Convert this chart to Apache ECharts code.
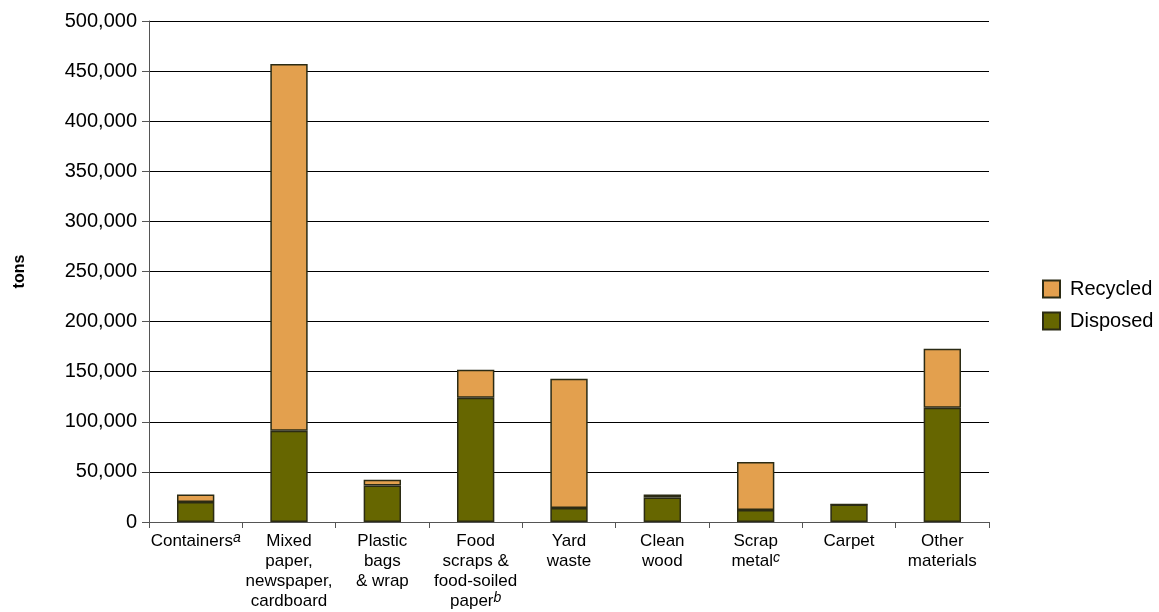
<!DOCTYPE html>
<html>
<head>
<meta charset="utf-8">
<script src="https://cdn.jsdelivr.net/npm/echarts@6/dist/echarts.min.js"></script>
<style>
  html, body { margin: 0; padding: 0; background: #fff; }
  #chart { width: 1159px; height: 612px; }
</style>
</head>
<body>
<div id="chart"></div>
<script>
// categories and footnote marks
const categories = ['Containers', 'Mixed\npaper,\nnewspaper,\ncardboard', 'Plastic\nbags\n& wrap',
  'Food\nscraps &\nfood-soiled\npaper', 'Yard\nwaste', 'Clean\nwood', 'Scrap\nmetal', 'Carpet', 'Other\nmaterials'];
const notes = ['a', '', '', 'b', '', '', 'c', '', ''];

// tons
const disposed = [20000, 91000, 36500, 124000, 14000, 24500, 12000, 17500, 114000];
const recycled = [7500, 366000, 5700, 28000, 129000, 3000, 48000, 0, 59000];

const yTicks = [0, 50000, 100000, 150000, 200000, 250000, 300000, 350000, 400000, 450000, 500000];

const font = '"Liberation Sans", Arial, sans-serif';
const edge = '#2b2b14';

let myChart = echarts.init(document.getElementById('chart'));

const option = {
  animation: false,
  textStyle: { fontFamily: font, color: '#000' },
  grid: { left: 149, right: 170, top: 21, bottom: 90, outerBoundsMode: 'none' },
  legend: {
    orient: 'vertical',
    left: 1042,
    top: 279,
    padding: 0,
    itemWidth: 17,
    itemHeight: 17,
    itemGap: 12,
    icon: 'rect',
    data: ['Recycled', 'Disposed'],
    textStyle: { fontSize: 20, fontFamily: font, color: '#000', padding: [0, 0, 0, 5] }
  },
  xAxis: {
    type: 'category',
    data: categories,
    axisLine: { lineStyle: { color: '#555', width: 1 } },
    axisTick: { show: true, length: 6, lineStyle: { color: '#555' } },
    axisLabel: {
      interval: 0,
      margin: 9,
      fontSize: 17,
      lineHeight: 20,
      color: '#000',
      fontFamily: font,
      formatter: (v, i) => notes[i] ? v + '{sup|' + notes[i] + '}' : v,
      rich: {
        sup: { fontSize: 14, fontStyle: 'italic', fontFamily: font, color: '#000', verticalAlign: 'top', padding: [0, 0, 10, 0] }
      }
    }
  },
  yAxis: {
    type: 'value',
    min: yTicks[0],
    max: yTicks[yTicks.length - 1],
    interval: yTicks[1] - yTicks[0],
    name: 'tons',
    nameLocation: 'middle',
    nameGap: 121,
    nameTextStyle: { fontSize: 16, fontWeight: 'bold', color: '#000', fontFamily: font },
    axisLine: { show: true, lineStyle: { color: '#555' } },
    axisTick: { show: true, length: 7, lineStyle: { color: '#555' } },
    splitLine: { lineStyle: { color: '#000', width: 1 } },
    axisLabel: {
      margin: 12,
      fontSize: 20,
      color: '#000',
      fontFamily: font,
      formatter: v => v.toLocaleString('en-US')
    }
  },
  series: [
    {
      name: 'Disposed',
      type: 'bar',
      stack: 'total',
      barWidth: '40%',
      data: disposed,
      itemStyle: { color: '#666600', borderColor: edge, borderWidth: 1.5 }
    },
    {
      name: 'Recycled',
      type: 'bar',
      stack: 'total',
      data: recycled,
      itemStyle: { color: '#E3A04E', borderColor: edge, borderWidth: 1.5 }
    }
  ]
};

myChart.setOption(option);
</script>
</body>
</html>
